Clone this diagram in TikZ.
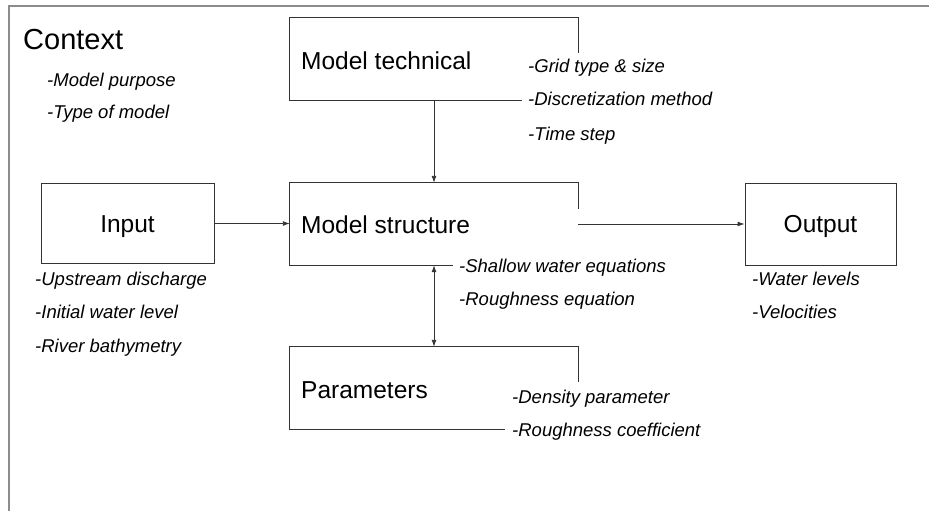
\documentclass[tikz,border=0pt]{standalone}
\usepackage{fontspec}
\setmainfont{Liberation Sans}
\usetikzlibrary{arrows.meta}
\begin{document}
\begin{tikzpicture}[x=1pt,y=-1pt,
  boxarea/.style={draw=none,inner sep=0pt,minimum width=288pt,minimum height=82pt},
  outline/.style={draw=black!80,line width=0.9pt},
  title/.style={anchor=base west,inner sep=0pt,font=\fontsize{24.5}{26}\selectfont},
  ctitle/.style={font=\fontsize{24.5}{26}\selectfont,text height=17.6pt,text depth=0pt},
  item/.style={anchor=base west,inner sep=0pt,font=\fontsize{18.5}{20}\selectfont\itshape},
  conn/.style={draw=black!80,line width=0.9pt,-{Latex[length=7pt,width=5pt]}},
  frame/.style={draw=black!45,line width=2pt}]
\useasboundingbox (0,0) rectangle (929,511);
% outer frame
\coordinate (fr1) at (929,6);
\coordinate (fr2) at (9,6);
\coordinate (fr3) at (9,511);
\draw[frame] (fr1) -- (fr2) -- (fr3);
% context
\node[anchor=base west,inner sep=0pt,font=\fontsize{29}{31}\selectfont] (ctx) at (23,50) {Context};
\node[item] (c1) at (47,87) {-Model purpose};
\node[item] (c2) at (47,118) {-Type of model};
% model technical
\node[boxarea] (mt) at (434,59) {};
\draw[outline] ([yshift=-35pt]mt.north east) -- (mt.north east) -- (mt.north west) -- (mt.south west) -- ([xshift=-56pt]mt.south east);
\node[title] (mtt) at (301,70) {Model technical};
\node[item] (t1) at (528,73) {-Grid type \& size};
\node[item] (t2) at (528,105) {-Discretization method};
\node[item] (t3) at (528,140) {-Time step};
% model structure
\node[boxarea] (ms) at (434,224) {};
\draw[outline] ([yshift=-26pt]ms.north east) -- (ms.north east) -- (ms.north west) -- (ms.south west) -- ([xshift=-125pt]ms.south east);
\node[title] (mst) at (301,233) {Model structure};
\node[item] (s1) at (459,272) {-Shallow water equations};
\node[item] (s2) at (459,305) {-Roughness equation};
% parameters
\node[boxarea] (par) at (434,388) {};
\draw[outline] ([yshift=-35pt]par.north east) -- (par.north east) -- (par.north west) -- (par.south west) -- ([xshift=-73pt]par.south east);
\node[title] (part) at (301,398) {Parameters};
\node[item] (p1) at (512,403) {-Density parameter};
\node[item] (p2) at (512,436) {-Roughness coefficient};
% input
\node[outline,ctitle,minimum width=173pt,minimum height=80pt,inner sep=0pt] (in) at (127.5,223.5) {Input};
\node[item] (i1) at (35,285) {-Upstream discharge};
\node[item] (i2) at (35,318) {-Initial water level};
\node[item] (i3) at (35,352) {-River bathymetry};
% output
\node[outline,ctitle,minimum width=151pt,minimum height=82pt,inner sep=0pt] (out) at (820.5,224) {Output};
\node[item] (o1) at (752,285) {-Water levels};
\node[item] (o2) at (752,318) {-Velocities};
% connectors
\draw[conn] (mt.south) -- (ms.north);
\draw[conn] (in.east) -- (in.east -| ms.west);
\draw[conn] (ms.east |- out.west) -- (out.west);
\draw[conn,{Latex[length=7pt,width=5pt]}-{Latex[length=7pt,width=5pt]}] (ms.south) -- (par.north);
\end{tikzpicture}
\end{document}
